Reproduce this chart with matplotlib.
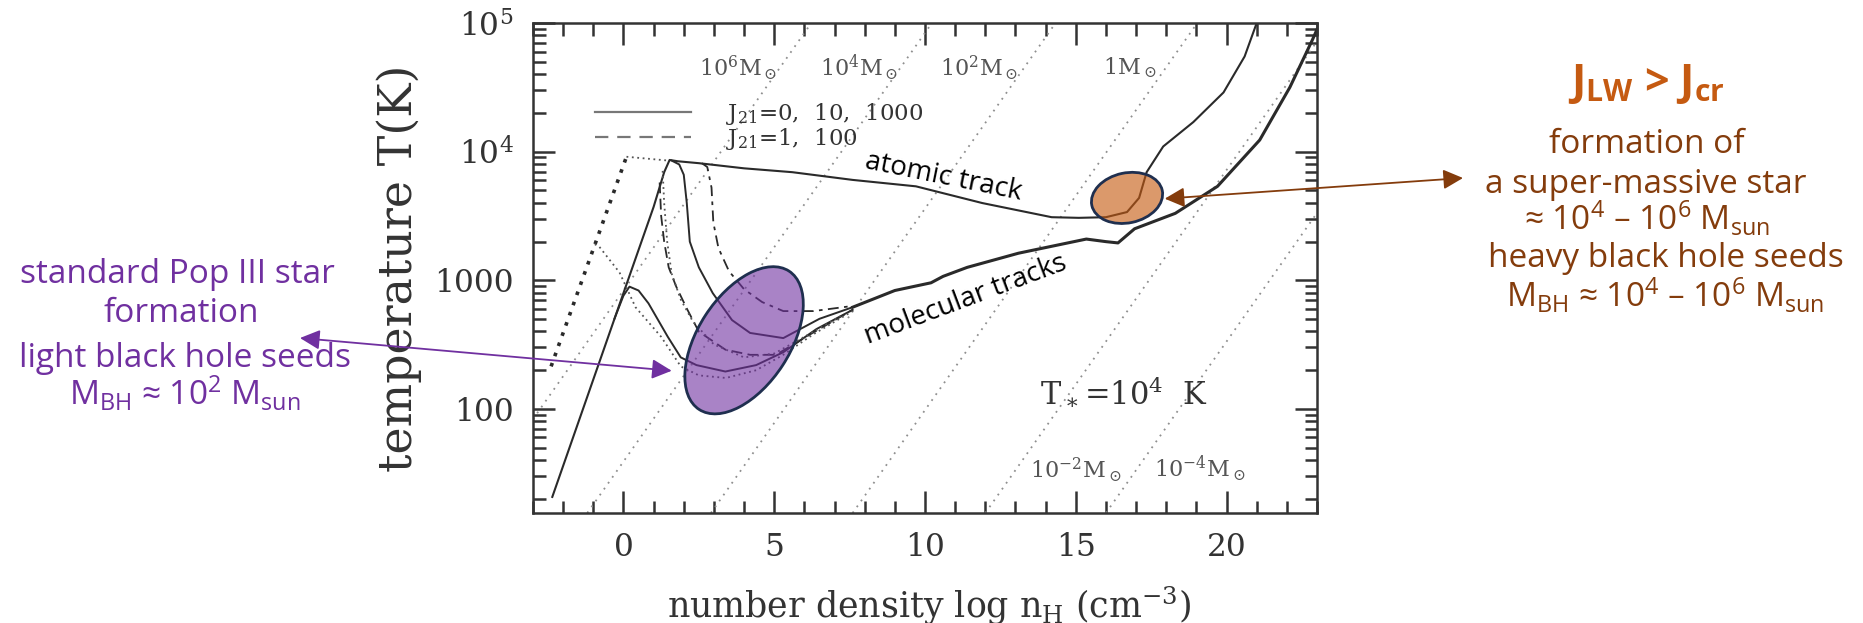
import numpy as np
import matplotlib.pyplot as plt
from matplotlib.lines import Line2D
from matplotlib.patches import Ellipse, FancyArrowPatch
from matplotlib.transforms import IdentityTransform
from matplotlib.ticker import MultipleLocator, LogLocator, NullFormatter

plt.rcParams['font.family'] = 'DejaVu Serif'
plt.rcParams['mathtext.fontset'] = 'dejavuserif'
plt.rcParams.update({'xtick.bottom': True, 'xtick.top': True, 'ytick.left': True, 'ytick.right': True,
                     'xtick.direction': 'in', 'ytick.direction': 'in',
                     'xtick.major.size': 16, 'ytick.major.size': 16,
                     'xtick.minor.size': 9, 'ytick.minor.size': 9,
                     'xtick.major.width': 1.8, 'ytick.major.width': 1.8,
                     'xtick.minor.width': 1.8, 'ytick.minor.width': 1.8,
                     'xtick.color': '#333', 'ytick.color': '#333'})

W, H = 1863, 623

# tracks: x = log n_H, y = log T
j1000_n = [-2.36, 0.0, 1.0, 1.35, 1.53, 1.8, 2.5, 4.0, 5.6, 7.6, 9.7, 11.9, 14.2, 15.1, 16.0, 16.7, 17.1, 17.35, 17.9, 18.9, 19.9, 20.6, 21.0]
j1000_logT = [1.315, 2.90, 3.57, 3.84, 3.935, 3.925, 3.91, 3.87, 3.84, 3.78, 3.73, 3.60, 3.49, 3.485, 3.49, 3.53, 3.64, 3.84, 4.04, 4.23, 4.46, 4.74, 5.0]

j10_n = [1.6, 1.85, 2.0, 2.1, 2.2, 2.5, 2.96, 3.6, 4.2, 5.3, 6.5, 7.6]
j10_logT = [3.93, 3.90, 3.82, 3.6, 3.3, 3.1, 2.90, 2.69, 2.59, 2.55, 2.70, 2.79]

j0_n = [-0.3, 0.0, 0.2, 0.5, 0.83, 1.47, 1.9, 2.42, 3.38, 4.4, 5.3, 6.4, 7.6]
j0_logT = [2.70, 2.88, 2.95, 2.92, 2.82, 2.56, 2.40, 2.34, 2.29, 2.34, 2.44, 2.62, 2.77]

molecular_n = [7.6, 9.0, 10.2, 10.6, 11.4, 13.1, 15.35, 16.0, 16.4, 16.95, 18.3, 19.7, 21.1, 22.1, 22.85, 23.0]
molecular_logT = [2.79, 2.92, 2.98, 3.03, 3.10, 3.21, 3.32, 3.30, 3.29, 3.40, 3.52, 3.73, 4.09, 4.50, 4.87, 4.95]

j1_n = [1.2, 1.25, 1.35, 1.5, 1.75, 2.1, 2.5, 3.38, 4.2, 5.06, 6.2, 7.6]
j1_logT = [3.76, 3.5, 3.3, 3.1, 2.95, 2.78, 2.60, 2.46, 2.42, 2.42, 2.58, 2.77]

j100_n = [2.6, 2.78, 2.92, 2.98, 3.15, 3.5, 4.0, 4.6, 5.3, 6.3, 7.6]
j100_logT = [3.91, 3.88, 3.72, 3.45, 3.25, 3.07, 2.93, 2.83, 2.76, 2.76, 2.80]

# dotted tracks (other initial conditions)
thick_dot_n = [-2.4, 0.1]
thick_dot_logT = [2.33, 3.96]
thin_dot_a_n = [0.1, 0.8, 1.5]
thin_dot_a_logT = [3.96, 3.945, 3.93]
thin_dot_b_n = [-0.95, -0.8, -0.13, 0.4, 1.25, 1.9, 2.5, 3.4, 4.4, 5.3, 6.3, 7.6]
thin_dot_b_logT = [3.28, 3.26, 3.06, 2.79, 2.56, 2.33, 2.26, 2.24, 2.30, 2.42, 2.58, 2.76]
thin_dot_c_n = [1.3, 1.35, 1.45, 1.6, 1.9, 2.3, 3.0, 4.0, 5.0, 6.0, 7.2]
thin_dot_c_logT = [3.85, 3.6, 3.3, 3.05, 2.85, 2.68, 2.50, 2.40, 2.43, 2.56, 2.72]

# constant Jeans-mass lines: end points (log n_H, log T)
jeans_n0 = [-3.0, -1.2, 2.9, 7.6, 12.0, 16.0]
jeans_logT0 = [1.92, 1.19, 1.19, 1.19, 1.19, 1.19]
jeans_n1 = [6.23, 10.23, 14.33, 19.03, 23.0, 23.0]
jeans_logT1 = [5.0, 5.0, 5.0, 5.0, 4.857, 3.523]

mass_labels = [r'10$^{\mathregular{6}}$M$_\odot$', r'10$^{\mathregular{4}}$M$_\odot$', r'10$^{\mathregular{2}}$M$_\odot$',
               r'1M$_\odot$', r'10$^{\mathregular{-2}}$M$_\odot$', r'10$^{\mathregular{-4}}$M$_\odot$']
mass_label_n = [3.8, 7.8, 11.8, 16.8, 15.0, 19.1]
mass_label_logT = [4.65, 4.65, 4.65, 4.65, 1.53, 1.53]

legend_labels = [r'J$_{\mathregular{21}}$=0,  10,  1000', r'J$_{\mathregular{21}}$=1,  100']

ink = '#2a2a2a'

fig = plt.figure(figsize=(W / 100, H / 100), dpi=100)
ax = fig.add_axes([533 / W, 1 - 513 / H, 784 / W, 490 / H])
ax.set_yscale('log')
ax.set_xlim(-3, 23)
ax.set_ylim(10 ** 1.19, 1e5)


def T(logT):
    return 10 ** np.array(logT)


for n0, t0, n1, t1 in zip(jeans_n0, jeans_logT0, jeans_n1, jeans_logT1):
    ax.plot([n0, n1], T([t0, t1]), color='#8f8f8f', lw=1.3, ls=(0, (1, 3)))

ax.plot(j1000_n, T(j1000_logT), color=ink, lw=1.5)
ax.plot(j10_n, T(j10_logT), color=ink, lw=1.4)
ax.plot(j0_n, T(j0_logT), color=ink, lw=1.4)
ax.plot(molecular_n, T(molecular_logT), color=ink, lw=2.2)
ax.plot(j1_n, T(j1_logT), color=ink, lw=1.3, dashes=(6, 3))
ax.plot(j100_n, T(j100_logT), color=ink, lw=1.3, dashes=(6, 3, 2, 3))
ax.plot(thick_dot_n, T(thick_dot_logT), color=ink, lw=2.6, ls=(0, (1, 2)))
ax.plot(thin_dot_a_n, T(thin_dot_a_logT), color='#555', lw=1.3, ls=(0, (1, 2)))
ax.plot(thin_dot_b_n, T(thin_dot_b_logT), color='#555', lw=1.3, ls=(0, (1, 2)))
ax.plot(thin_dot_c_n, T(thin_dot_c_logT), color='#555', lw=1.3, ls=(0, (1, 2)))

for lab, n, lt in zip(mass_labels, mass_label_n, mass_label_logT):
    ax.text(n, 10 ** lt, lab, ha='center', va='center', fontsize=16, color='#555')

ax.text(16.6, 10 ** 2.12, r'T$_\ast$=10$^{\mathregular{4}}$  K', ha='center', va='center', fontsize=22, color='#333')

ax.text(10.6, 10 ** 3.80, 'atomic track', rotation=-11.5, ha='center', va='center',
        fontsize=20, family=['Open Sans', 'DejaVu Sans'], color='black')
ax.text(11.34, 10 ** 2.85, 'molecular tracks', rotation=20.6, ha='center', va='center',
        fontsize=20, family=['Open Sans', 'DejaVu Sans'], color='black')

handles = [Line2D([], [], color='#777', lw=1.6), Line2D([], [], color='#777', lw=1.6, dashes=(6, 4))]
leg = ax.legend(handles, legend_labels, loc='upper left', bbox_to_anchor=(0.079, 0.84), frameon=False,
                handlelength=4.2, handletextpad=1.5, labelspacing=-0.08, borderpad=0, borderaxespad=0,
                prop={'family': 'DejaVu Serif', 'size': 16.5})
for t in leg.get_texts():
    t.set_color('#333')

ax.set_yticks([100, 1000, 1e4, 1e5])
ax.set_yticklabels(['100', '1000', r'10$^{\mathregular{4}}$', r'10$^{\mathregular{5}}$'])
ax.yaxis.set_minor_locator(LogLocator(base=10, subs=range(2, 10)))
ax.yaxis.set_minor_formatter(NullFormatter())
ax.xaxis.set_major_locator(MultipleLocator(5))
ax.xaxis.set_minor_locator(MultipleLocator(1))
ax.tick_params(which='both', direction='in', top=True, right=True, bottom=True, left=True,
               color='#333', labelcolor='#333', width=1.8, labelsize=22.5, pad=14)
ax.tick_params(which='major', length=16)
ax.tick_params(which='minor', length=9)
for s in ax.spines.values():
    s.set_linewidth(1.8)
    s.set_color('#333')

ax.set_ylabel('temperature T(K)', fontsize=33, color='#333')
ax.yaxis.set_label_coords(-0.142, 0.5)
ax.set_xlabel(r'number density log n$_{\mathregular{H}}$ (cm$^{\mathregular{-3}}$)', fontsize=25, color='#333')
ax.xaxis.set_label_coords(0.505, -0.145)
ax.xaxis.label.set_va('top')


def disp(n, logT):
    return ax.transData.transform((n, 10 ** logT))


def fig_px(x, y):
    return (x, H - y)


purple = '#7030A0'
brown = '#843C0C'
orange = '#C55A11'
edge = '#1F2F4F'

fig.add_artist(Ellipse(disp(4.0, 2.533), width=165, height=92, angle=57, transform=IdentityTransform(),
                       facecolor=(112 / 255, 48 / 255, 160 / 255, 0.6), edgecolor=edge, lw=2, zorder=5))
fig.add_artist(Ellipse(disp(16.7, 3.64), width=72, height=50, angle=12, transform=IdentityTransform(),
                       facecolor=(197 / 255, 90 / 255, 17 / 255, 0.62), edgecolor=edge, lw=2, zorder=5))

fig.add_artist(FancyArrowPatch(fig_px(300, 338), disp(1.6, 2.296),
                               arrowstyle='<|-|>,head_length=0.6,head_width=0.3', mutation_scale=20,
                               color=purple, lw=1.3, shrinkA=0, shrinkB=0, transform=IdentityTransform(), zorder=6))
fig.add_artist(FancyArrowPatch(disp(17.95, 3.634), fig_px(1463, 178),
                               arrowstyle='<|-|>,head_length=0.6,head_width=0.3', mutation_scale=20,
                               color=brown, lw=1.3, shrinkA=0, shrinkB=0, transform=IdentityTransform(), zorder=6))

sans = ['Open Sans', 'DejaVu Sans']
left_lines = ['standard Pop III star', 'formation', 'light black hole seeds',
              r'M$_{\mathregular{BH}}$ ≈ 10$^{\mathregular{2}}$ M$_{\mathregular{sun}}$']
left_x = [177, 181, 185, 185]
left_y = [283, 322, 367, 405]
for s, x, y in zip(left_lines, left_x, left_y):
    fig.text(x / W, 1 - y / H, s, ha='center', va='baseline', fontsize=24, family=sans, color=purple)

fig.text(1647 / W, 1 - 95 / H, r'J$_{\mathregular{LW}}$ > J$_{\mathregular{cr}}$', ha='center', va='baseline',
         fontsize=31, family=sans, weight='bold', color=orange)
right_lines = ['formation of', 'a super-massive star',
               r'≈ 10$^{\mathregular{4}}$ – 10$^{\mathregular{6}}$ M$_{\mathregular{sun}}$',
               'heavy black hole seeds',
               r'M$_{\mathregular{BH}}$ ≈ 10$^{\mathregular{4}}$ – 10$^{\mathregular{6}}$ M$_{\mathregular{sun}}$']
right_x = [1647, 1646, 1647, 1666, 1665]
right_y = [153, 193, 230, 267, 307]
for s, x, y in zip(right_lines, right_x, right_y):
    fig.text(x / W, 1 - y / H, s, ha='center', va='baseline', fontsize=24, family=sans, color=brown)

fig.savefig('out.png', dpi=100, facecolor='white')
